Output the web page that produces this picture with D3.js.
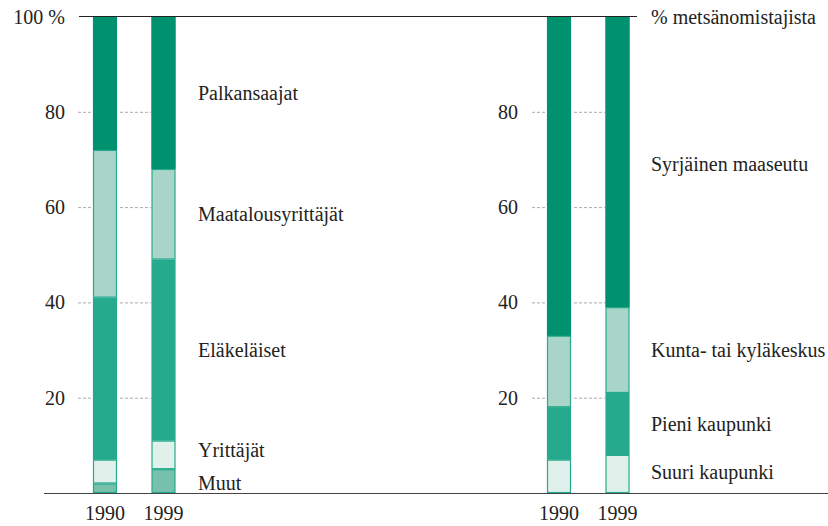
<!DOCTYPE html>
<html><head><meta charset="utf-8">
<script src="https://cdn.jsdelivr.net/npm/d3@7"></script>
<style>body{margin:0;background:#fff}svg{display:block}</style>
</head><body><svg id="c" width="828" height="526"></svg>
<script>
const years = ["1990","1999"];
const leftCategories = ["Muut","Yrittäjät","Eläkeläiset","Maatalousyrittäjät","Palkansaajat"];
const left1990 = [2,5,34,31,28];
const left1999 = [5,6,38,19,32];
const leftColors = ["#76c0ac","#e0f1eb","#26aa8d","#a9d5c9","#00916e"];
const leftLabelY = [2, 9, 30, 58.5, 84];
const rightCategories = ["Suuri kaupunki","Pieni kaupunki","Kunta- tai kyläkeskus","Syrjäinen maaseutu"];
const right1990 = [7,11,15,67];
const right1999 = [8,13,18,61];
const rightColors = ["#e0f1eb","#26aa8d","#a9d5c9","#00916e"];
const rightLabelY = [4.5, 14.5, 30, 69];
const yTicks = [20,40,60,80];

const FONT = "'Liberation Serif','Times New Roman','DejaVu Serif',serif";
const svg = d3.select("#c");
const y = d3.scaleLinear().domain([0,100]).range([493,16.5]);
const fs = 20;

function txt(x,yy,s,anchor){
  return svg.append("text").attr("x",x).attr("y",yy).attr("text-anchor",anchor||"start")
    .attr("font-size",fs).attr("font-family",FONT).attr("fill","#222").text(s);
}

function panel(xScale, data, colors, gridRanges, tickX, labels, labelY, labelX){
  yTicks.forEach(t=>{
    gridRanges.forEach(r=>{
      svg.append("line").attr("x1",r[0]).attr("x2",r[1]).attr("y1",y(t)+0.5).attr("y2",y(t)+0.5)
        .attr("stroke","#aaa").attr("stroke-width",1).attr("stroke-dasharray","3,2");
    });
    txt(tickX,y(t)+7,t,"end");
  });
  years.forEach((yr,i)=>{
    const vals = data[i];
    let cum = 0;
    const segs = vals.map((v,j)=>{const s={y0:cum,y1:cum+v,c:colors[j]};cum+=v;return s;});
    const g = svg.append("g");
    g.selectAll("rect").data(segs).join("rect")
      .attr("x",xScale(yr)+0.5).attr("width",xScale.bandwidth()-1)
      .attr("y",d=>y(d.y1)+0.5).attr("height",d=>y(d.y0)-y(d.y1)-1)
      .attr("fill",d=>d.c).attr("stroke","#26aa8d").attr("stroke-width",1.2);
    const last = segs[segs.length-1];
    g.append("rect").attr("x",xScale(yr)).attr("width",xScale.bandwidth())
      .attr("y",y(last.y1)).attr("height",y(last.y0)-y(last.y1)).attr("fill",last.c);
    txt(xScale(yr)+xScale.bandwidth()/2,520,yr,"middle");
  });
  labels.forEach((l,j)=>{ txt(labelX,y(labelY[j])+7,l); });
}

const xL = d3.scaleBand().domain(years).range([93,175.5]).paddingInner(0.59);
const xR = d3.scaleBand().domain(years).range([547,629.5]).paddingInner(0.59);

panel(xL,[left1990,left1999],leftColors,[[78,93],[120,151]],65,leftCategories,leftLabelY,198);
panel(xR,[right1990,right1999],rightColors,[[532,547],[574,605]],518,rightCategories,rightLabelY,651);

svg.append("line").attr("x1",79).attr("x2",637).attr("y1",16.5).attr("y2",16.5).attr("stroke","#222").attr("stroke-width",1.2);
svg.append("line").attr("x1",44).attr("x2",828).attr("y1",493.5).attr("y2",493.5).attr("stroke","#444").attr("stroke-width",1.2);

txt(65,y(100)+7,"100 %","end");
txt(651,y(100)+7,"% metsänomistajista");
</script></body></html>
